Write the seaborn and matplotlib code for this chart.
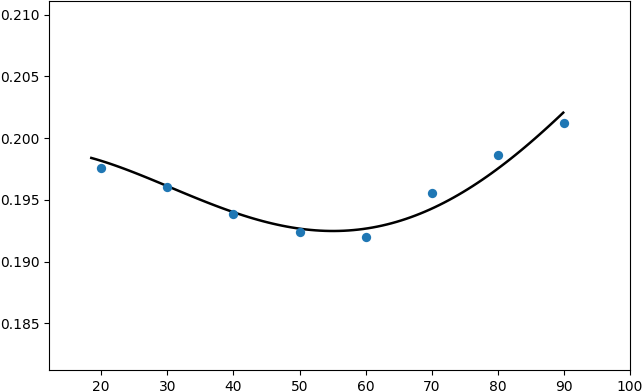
import numpy as np
import pandas as pd
import matplotlib
matplotlib.use("Agg")
import matplotlib.pyplot as plt
import seaborn as sns

# measured points
x_pts = [20, 30, 40, 50, 60, 70, 80, 90]
y_pts = [0.19757, 0.19605, 0.19384, 0.19239, 0.19198, 0.19554, 0.19865, 0.20122]

# points
curve_x = [18.5, 30.0, 40.0, 45.5, 50.0, 56.1, 59.9, 65.2, 69.9, 79.9, 89.9]
curve_y = [0.19843, 0.19600, 0.19405, 0.19320, 0.19279, 0.19243, 0.19257, 0.19324, 0.19427, 0.19759, 0.20203]

pts = pd.DataFrame({"x": x_pts, "y": y_pts})
crv = pd.DataFrame({"x": curve_x, "y": curve_y})

fig = plt.figure(figsize=(6.42, 3.91), dpi=100)
ax = fig.add_axes([49 / 642, 21 / 391, 581 / 642, 369 / 391])

# smooth curve through the read points
sns.regplot(data=crv, x="x", y="y", order=4, scatter=False, ci=None,
            truncate=True, color="black", line_kws={"lw": 1.8}, ax=ax)
sns.scatterplot(data=pts, x="x", y="y", color="#1f77b4", s=45,
                linewidth=0, ax=ax, zorder=3)

ax.set_xlim(12.1, 100)
ax.set_ylim(0.18122, 0.21111)
ax.set_xticks([20, 30, 40, 50, 60, 70, 80, 90, 100])
ax.set_yticks([0.185, 0.190, 0.195, 0.200, 0.205, 0.210])
ax.set_xlabel("")
ax.set_ylabel("")

fig.savefig("out.png", dpi=100)
